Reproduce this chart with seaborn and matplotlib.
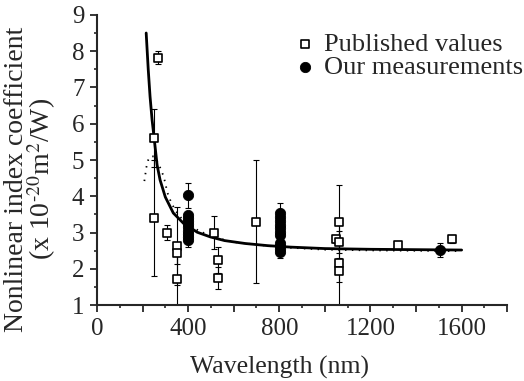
import matplotlib
matplotlib.use("Agg")
import matplotlib.pyplot as plt
from matplotlib.ticker import MultipleLocator, FuncFormatter
import pandas as pd
import seaborn as sns

# published values: wavelength (nm), n2, error
pub_wl = [269, 251, 251, 308, 352, 352, 352, 515, 529, 529, 699,
          1050, 1064, 1064, 1064, 1064, 1319, 1556]
pub_n2 = [7.82, 5.6, 3.4, 3.0, 2.63, 2.43, 1.72, 3.0, 2.24, 1.74, 3.3,
          2.82, 3.3, 2.75, 2.16, 1.94, 2.66, 2.82]
pub_err = [0.18, 0.8, 1.6, 0.2, 1.07, 0.3, 0.8, 0.45, 0.35, 0.3, 1.7,
           0.1, 1.0, 0.3, 1.2, 0.3, 0.1, 0.12]

# our measurements
our_wl = [401] * 10 + [802] * 11 + [1503]
our_n2 = [4.03, 3.48, 3.4, 3.32, 3.25, 3.15, 3.05, 2.95, 2.87, 2.8,
          3.53, 3.43, 3.33, 3.22, 3.12, 3.02, 2.93, 2.72, 2.62, 2.55, 2.47,
          2.52]
our_err = [0.35, 0.1, 0.1, 0.1, 0.1, 0.1, 0.1, 0.1, 0.1, 0.2,
           0.28, 0.1, 0.1, 0.1, 0.1, 0.1, 0.1, 0.1, 0.1, 0.1, 0.17,
           0.2]

# fitted curve
fit_wl = [216, 225, 233, 242, 251, 264, 277, 300, 335, 379, 440, 498,
          560, 650, 750, 850, 1000, 1200, 1400, 1600]
fit_n2 = [8.5, 7.5, 6.75, 6.1, 5.6, 4.86, 4.45, 3.98, 3.54, 3.26, 3.01, 2.88,
          2.78, 2.7, 2.64, 2.6, 2.56, 2.54, 2.53, 2.52]

# dotted curve
dot_wl = [208, 211, 216, 225, 235, 250, 265, 278, 290, 300, 308, 325,
          345, 370, 400, 450, 520, 600, 800, 1000, 1200, 1600]
dot_n2 = [4.42, 4.53, 4.78, 5.0, 5.1, 5.1, 4.95, 4.78, 4.59, 4.37, 4.12,
          3.84, 3.6, 3.4, 3.22, 3.04, 2.86, 2.74, 2.6, 2.53, 2.51, 2.49]

pub = pd.DataFrame({"wl": pub_wl, "n2": pub_n2})
our = pd.DataFrame({"wl": our_wl, "n2": our_n2})

sns.set_style("ticks")
plt.rcParams["font.family"] = ["Liberation Serif", "DejaVu Serif"]
plt.rcParams["mathtext.fontset"] = "stix"

fig = plt.figure(figsize=(5.24, 3.81), dpi=100)
ax = fig.add_axes([0.185, 0.199, 0.783, 0.762])

sns.lineplot(x=dot_wl, y=dot_n2, ax=ax, color="black", lw=1.3,
             linestyle=(0, (0.8, 3)))
sns.lineplot(x=fit_wl, y=fit_n2, ax=ax, color="black", lw=2)

ax.errorbar(pub_wl, pub_n2, yerr=pub_err, fmt="none", ecolor="black",
            elinewidth=0.8, capsize=2.5, capthick=0.8)
ax.errorbar(our_wl, our_n2, yerr=our_err, fmt="none", ecolor="black",
            elinewidth=0.8, capsize=2.5, capthick=0.8)

sns.scatterplot(data=pub, x="wl", y="n2", ax=ax, marker="s", s=34,
                facecolor="white", edgecolor="black", linewidth=1.2,
                label="Published values", zorder=5)
sns.scatterplot(data=our, x="wl", y="n2", ax=ax, marker="o", s=55,
                color="black", edgecolor="black", label="Our measurements",
                zorder=6)

ax.set_xlim(0, 1800)
ax.set_ylim(1, 9)
ax.xaxis.set_major_locator(MultipleLocator(200))
ax.xaxis.set_minor_locator(MultipleLocator(100))
ax.xaxis.set_major_formatter(FuncFormatter(
    lambda v, p: "%d" % v if v % 400 == 0 and v <= 1600 else ""))
ax.yaxis.set_major_locator(MultipleLocator(1))
ax.yaxis.set_minor_locator(MultipleLocator(0.5))
ax.tick_params(which="major", length=5, width=1.3, labelsize=18,
               direction="out", pad=4)
ax.tick_params(which="minor", length=2.5, width=1.2, direction="out")
for s in ["left", "bottom"]:
    ax.spines[s].set_linewidth(1.5)
sns.despine(ax=ax)

ax.set_xlabel("Wavelength (nm)", fontsize=18.5)
ax.xaxis.set_label_coords(0.444, -0.173)
ax.set_ylabel("Nonlinear index coefficient\n(x 10$^{\\text{-}20}$m$^{2}$/W)",
              fontsize=20, linespacing=0.87)
ax.yaxis.set_label_coords(-0.095, 0.435)

ax.legend(loc="upper left", bbox_to_anchor=(0.552, 0.915),
          bbox_transform=fig.transFigure, frameon=False,
          fontsize=19, handletextpad=0.1, labelspacing=0.0,
          borderaxespad=0, borderpad=0, handlelength=1.2)

plt.savefig("out.png", dpi=100)
